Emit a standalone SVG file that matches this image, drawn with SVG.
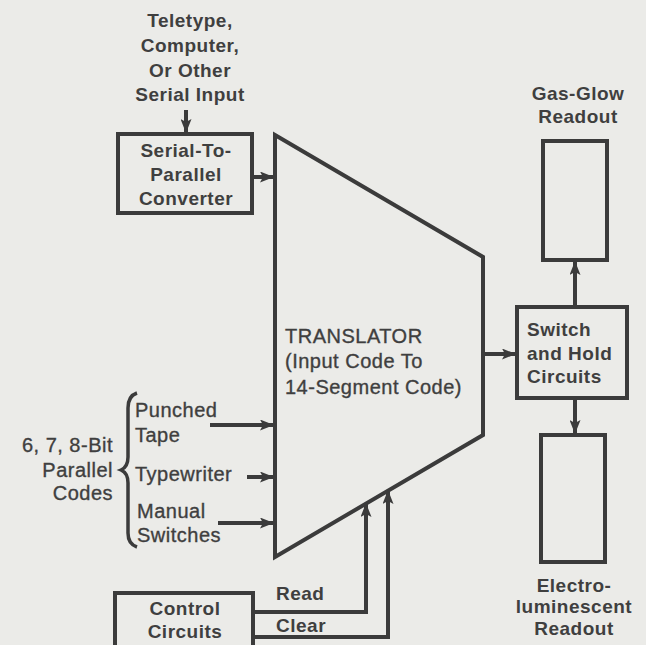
<svg xmlns="http://www.w3.org/2000/svg" width="646" height="645" viewBox="0 0 646 645">
<defs>
<marker id="ah" markerUnits="userSpaceOnUse" markerWidth="14" markerHeight="11" refX="13" refY="5.5" orient="auto">
<path d="M0,0 L14,5.5 L0,11 L3,5.5 z" fill="#3b3b3b"/>
</marker>
<style>
.box{fill:none;stroke:#3b3b3b;stroke-width:4;stroke-linejoin:miter}
.ln{fill:none;stroke:#3b3b3b;stroke-width:4}
.t{font-family:"Liberation Sans",Arial,sans-serif;font-size:20px;fill:#3f3f3f;letter-spacing:0.5px;stroke:#3f3f3f;stroke-width:0.35px}
.b{font-weight:bold;font-size:19px;stroke:none}
.c{text-anchor:middle}
.r{text-anchor:end}
</style>
</defs>
<rect width="646" height="645" fill="#ebebe8"/>

<g id="serial-input-label">
<text class="t b c" x="190" y="27">Teletype,</text>
<text class="t b c" x="190" y="52">Computer,</text>
<text class="t b c" x="190" y="77">Or Other</text>
<text class="t b c" x="190" y="101">Serial Input</text>
</g>

<g id="serial-to-parallel">
<rect class="box" x="118" y="134" width="134" height="79"/>
<text class="t b c" x="186" y="157">Serial-To-</text>
<text class="t b c" x="186" y="181">Parallel</text>
<text class="t b c" x="186" y="205">Converter</text>
</g>

<g id="translator">
<path class="box" d="M275,135 L483,257 L483,435 L275,557 Z"/>
<text class="t" x="285" y="343">TRANSLATOR</text>
<text class="t" x="285" y="368">(Input Code To</text>
<text class="t" x="285" y="394">14-Segment Code)</text>
</g>

<g id="parallel-codes">
<text class="t r" x="113" y="452">6, 7, 8-Bit</text>
<text class="t r" x="113" y="477">Parallel</text>
<text class="t r" x="113" y="500">Codes</text>
<path d="M137,393 Q128,396 128,408 L128,457 Q128,467 121,470 Q128,473 128,483 L128,533 Q128,544 137,547" fill="none" stroke="#3b3b3b" stroke-width="3.5"/>
<text class="t" x="135" y="417">Punched</text>
<text class="t" x="135" y="442">Tape</text>
<text class="t" x="135" y="481">Typewriter</text>
<text class="t" x="137" y="518">Manual</text>
<text class="t" x="137" y="542">Switches</text>
</g>

<g id="control-circuits">
<rect class="box" x="115" y="593" width="138" height="70"/>
<text class="t b c" x="185" y="615">Control</text>
<text class="t b c" x="185" y="638">Circuits</text>
<text class="t b" x="276" y="600">Read</text>
<text class="t b" x="276" y="632">Clear</text>
</g>

<g id="switch-hold">
<rect class="box" x="517" y="307" width="110" height="91"/>
<text class="t b" x="527" y="336">Switch</text>
<text class="t b" x="527" y="360">and Hold</text>
<text class="t b" x="527" y="383">Circuits</text>
</g>

<g id="gas-glow">
<text class="t b c" x="578" y="100">Gas-Glow</text>
<text class="t b c" x="578" y="123">Readout</text>
<rect class="box" x="543" y="141" width="64" height="119"/>
</g>

<g id="electroluminescent">
<rect class="box" x="541" y="435" width="64" height="127"/>
<text class="t b c" x="574" y="592">Electro-</text>
<text class="t b c" x="574" y="613">luminescent</text>
<text class="t b c" x="574" y="635">Readout</text>
</g>

<g id="connectors">
<path class="ln" d="M186,110 L186,132" marker-end="url(#ah)"/>
<path class="ln" d="M252,177 L273,177" marker-end="url(#ah)"/>
<path class="ln" d="M210,425 L273,425" marker-end="url(#ah)"/>
<path class="ln" d="M247,477 L273,477" marker-end="url(#ah)"/>
<path class="ln" d="M218,523 L273,523" marker-end="url(#ah)"/>
<path class="ln" d="M253,612 L366,612 L366,504" marker-end="url(#ah)"/>
<path class="ln" d="M253,637 L388,637 L388,491" marker-end="url(#ah)"/>
<path class="ln" d="M483,354 L515,354" marker-end="url(#ah)"/>
<path class="ln" d="M575,307 L575,262" marker-end="url(#ah)"/>
<path class="ln" d="M575,398 L575,433" marker-end="url(#ah)"/>
</g>
</svg>
